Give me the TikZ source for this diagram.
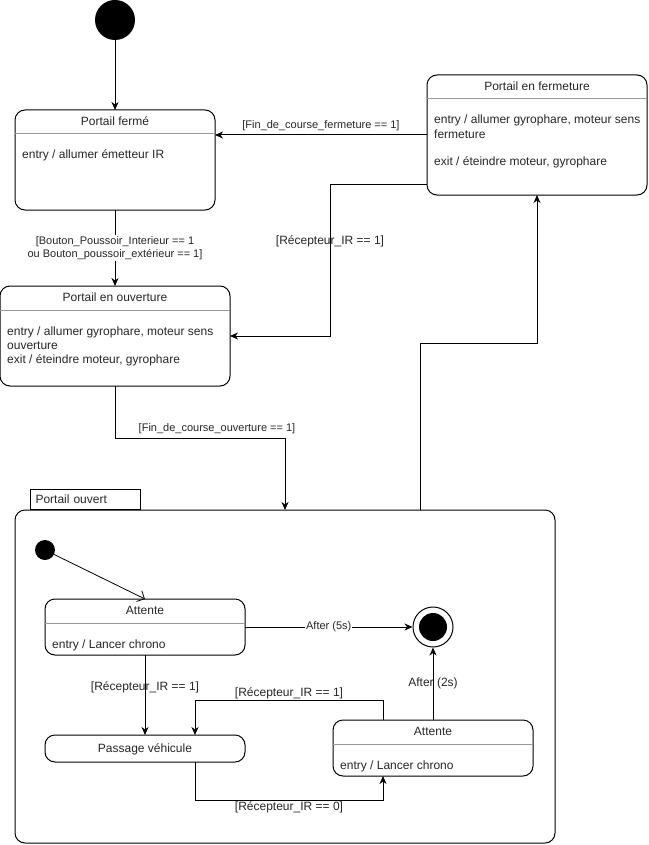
\documentclass[tikz,border=0pt]{standalone}
\usepackage{fontspec}
\setmainfont{Liberation Sans}
\usepackage{tikz}
\usetikzlibrary{arrows.meta}

\begin{document}
\begin{tikzpicture}[x=1pt,y=-1pt,
	statebox/.style={draw,rounded corners=10pt,inner sep=0,outer sep=0,line width=1pt},
	titletxt/.style={font=\fontsize{12}{14}\selectfont,text=black!85,inner sep=0},
	bodytxt/.style={font=\fontsize{12}{14}\selectfont,text=black!85,inner sep=0,anchor=north west,align=left},
	lbl/.style={font=\fontsize{11}{13.5}\selectfont,text=black!85,inner sep=1pt,align=center},
	lblbig/.style={lbl,font=\fontsize{12}{14}\selectfont},
	trans/.style={draw,line width=1pt,-{Stealth[length=8pt,width=7pt,inset=2.5pt]}},
	sepline/.style={draw,black!40,line width=1pt}]
				\useasboundingbox (0,0) rectangle (648,845);
				%outer states placed by hand (pixel coordinates, y going down)
				\node[circle,fill,minimum size=40pt,inner sep=0] (init) at (115,20) {};
				\node[statebox,minimum width=200pt,minimum height=100pt] (ferme) at (115,160) {};
				\node[statebox,minimum width=230pt,minimum height=100pt] (ouvre) at (115,336) {};
				\node[statebox,minimum width=220pt,minimum height=120pt] (fermeture) at (537,135) {};
				\node[statebox,minimum width=540pt,minimum height=333pt] (ouvert) at (285,676.5) {};
				\node[draw,line width=1pt,anchor=south west,minimum width=110pt,minimum height=20pt,
					text width=100pt,inner xsep=5pt,inner ysep=0,align=left,
					font=\fontsize{12}{14}\selectfont,text=black!85] (ouvert-tab) at (30,510) {Portail ouvert};

				%%inner states of Portail ouvert
				\node[circle,fill,minimum size=20pt,inner sep=0] (init2) at (45,550) {};
				\node[statebox,minimum width=200pt,minimum height=56pt] (att1) at (145,627) {};
				\node[statebox,minimum width=200pt,minimum height=27pt,text depth=0pt,
					font=\fontsize{12}{14}\selectfont,text=black!85] (pass) at (145,748.5) {Passage véhicule};
				\node[statebox,minimum width=200pt,minimum height=56pt] (att2) at (433,748) {};
				\node[circle,draw,line width=1pt,minimum size=40pt,inner sep=0] (final) at (433,627) {};
				\node[circle,fill,minimum size=28pt,inner sep=0] (final-in) at (final) {};

				%% titles and separators drawn with a loop
				\foreach \s/\t in {ferme/Portail fermé, ouvre/Portail en ouverture,
					fermeture/Portail en fermeture, att1/Attente, att2/Attente}{
					\node[titletxt] (\s-t) at ([yshift=-11.5pt]\s.north) {\t};
					\draw[sepline] ([yshift=-24pt]\s.north west) -- ([yshift=-24pt]\s.north east);
					}

				\node[bodytxt] (ferme-b) at (22,149) {\strut entry / allumer émetteur IR};
				\node[bodytxt] (ouvre-b) at (7,325) {\strut entry / allumer gyrophare, moteur sens\\ouverture\\exit / éteindre moteur, gyrophare};
				\node[bodytxt] (fermeture-b) at (434,114) {\strut entry / allumer gyrophare, moteur sens\\fermeture\\[14pt]exit / éteindre moteur, gyrophare};
				\node[bodytxt] (att1-b) at (52,638) {\strut entry / Lancer chrono};
				\node[bodytxt] (att2-b) at (340,759) {\strut entry / Lancer chrono};

				%outer transitions
				\draw[trans] (init) -- (ferme);
				\draw[trans] (ferme) -- node[lbl,fill=white] {[Bouton\_Poussoir\_Interieur == 1\\ou Bouton\_poussoir\_extérieur == 1]} (ouvre);
				\draw[trans] (fermeture.west) -- node[lbl,above=3pt] {[Fin\_de\_course\_fermeture == 1]} (fermeture.west -| ferme.east);
				\draw[trans] ([yshift=11pt]fermeture.south west) -| node[lblbig,pos=0.69] {[Récepteur\_IR == 1]} (330,336) -- (ouvre.east);
				\draw[trans] (ouvre.south) -- ++(0,52) -| node[lbl,pos=0.3,above=3pt] {[Fin\_de\_course\_ouverture == 1]} (ouvert.north);
				\draw[trans] ([xshift=135pt]ouvert.north) -- ++(0,-167) -| (fermeture.south);

				%inner transitions
				\draw[line width=0.8pt,-{Straight Barb[length=6pt,width=12pt]}] (init2) -- (att1.north);
				\draw[trans] (att1) -- node[lbl,fill=white] {After (5s)} (final);
				\draw[trans] (att1) -- node[lblbig,pos=0.4] {[Récepteur\_IR == 1]} (pass);
				\draw[trans] (att2) -- node[lblbig] {After (2s)} (final);
				\draw[trans] ([xshift=-50pt]att2.north) -- ++(0,-20) -| node[lblbig,pos=0.25,above=0pt] {[Récepteur\_IR == 1]} ([xshift=50pt]pass.north);
				\draw[trans] ([xshift=50pt]pass.south) -- ++(0,38) -| node[lblbig,pos=0.25,below=0pt] {[Récepteur\_IR == 0]} ([xshift=-50pt]att2.south);
\end{tikzpicture}
\end{document}
